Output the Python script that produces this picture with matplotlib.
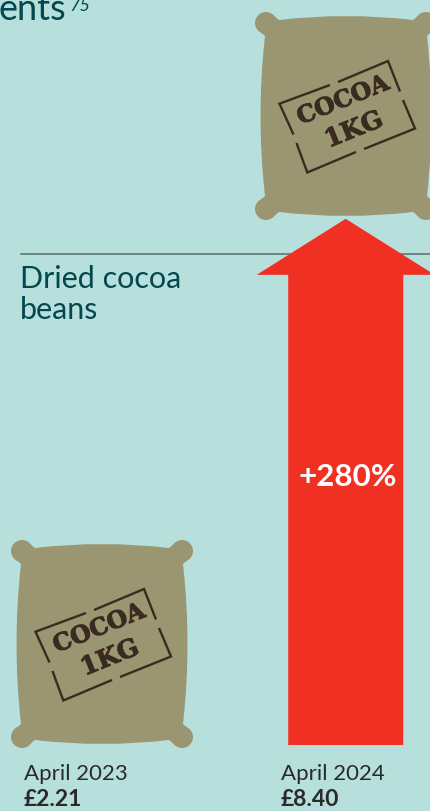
import matplotlib
matplotlib.use("Agg")
import matplotlib.pyplot as plt
import matplotlib.patheffects as pe
from matplotlib.path import Path
from matplotlib.patches import PathPatch, Circle

months = ["April 2023", "April 2024"]
prices = [2.21, 8.40]
product = "Dried cocoa\nbeans"

BG = "#b7e0dc"
SACK = "#9a9672"
STAMP = "#3b2a20"
RED = "#f13024"
TEAL = "#03474f"
DARK = "#2a2a2a"
FONT = "Lato"

fig = plt.figure(figsize=(4.31, 8.11), dpi=100, facecolor=BG)
ax = fig.add_axes([0, 0, 1, 1])
ax.set_xlim(0, 431)
ax.set_ylim(811, 0)
ax.axis("off")


def sack(cx, cy):
    verts = [
        (-72.6, -100.4), (-67, -96), (0, -104), (67, -96), (72.6, -100.4),
        (87.4, -85.6), (81, -80), (90, 0), (81, 80), (87.4, 85.6),
        (72.6, 100.4), (67, 96), (0, 104), (-67, 96), (-72.6, 100.4),
        (-87.4, 85.6), (-81, 80), (-90, 0), (-81, -80), (-87.4, -85.6),
        (-72.6, -100.4),
    ]
    codes = [Path.MOVETO, Path.LINETO, Path.CURVE3, Path.CURVE3, Path.LINETO,
             Path.LINETO, Path.LINETO, Path.CURVE3, Path.CURVE3, Path.LINETO,
             Path.LINETO, Path.LINETO, Path.CURVE3, Path.CURVE3, Path.LINETO,
             Path.LINETO, Path.LINETO, Path.CURVE3, Path.CURVE3, Path.LINETO,
             Path.CLOSEPOLY]
    body = Path([(cx + x, cy + y) for x, y in verts], codes)
    ax.add_patch(PathPatch(body, fc=SACK, ec="none", zorder=3))
    for sx in (-1, 1):
        for sy in (-1, 1):
            ax.add_patch(Circle((cx + sx * 80, cy + sy * 93), 11, fc=SACK, ec="none", zorder=3))

    # stencil frame, broken in the middle of each side
    frame = [
        [(-52.5, 18.5), (-66.5, -12.3), (-16, -31)],
        [(-8, -34), (42, -55), (54, -24.5)],
        [(57, -16), (69, 12.5), (18, 33)],
        [(10, 36), (-38.7, 56.5), (-49.5, 27)],
    ]
    for side in frame:
        ax.plot([cx + p[0] for p in side], [cy + p[1] for p in side], color=STAMP,
                lw=1.7, solid_joinstyle="miter", solid_capstyle="butt", zorder=4)
    heavy = [pe.withStroke(linewidth=0.7, foreground=STAMP)]
    ax.text(cx - 3, cy - 16, "COCOA", rotation=22, rotation_mode="anchor", ha="center", va="center",
            family="DejaVu Serif", weight="bold", fontsize=17, color=STAMP, zorder=4, path_effects=heavy)
    ax.text(cx + 8, cy + 14, "1KG", rotation=22, rotation_mode="anchor", ha="center", va="center",
            family="DejaVu Serif", weight="bold", fontsize=18, color=STAMP, zorder=4, path_effects=heavy)


# heading fragment running off the top-left
ax.text(-2, 20, "ents", family=FONT, fontsize=26, color=TEAL, ha="left", va="baseline", clip_on=False)
ax.text(69, 11, "75", family=FONT, fontsize=13, color=TEAL, style="italic", ha="left", va="baseline")

# rule and product name
ax.plot([21, 431], [254, 254], color="#5a6d6e", lw=1.1, zorder=1)
ax.text(20, 288, product.split("\n")[0], family=FONT, fontsize=22, color=TEAL, va="baseline")
ax.text(20, 319, product.split("\n")[1], family=FONT, fontsize=22, color=TEAL, va="baseline")

sack(102, 644)
sack(346, 116)

# arrow height follows the price rise
rise = (prices[1] / prices[0] - 1) * 100
px_per_pct = 526 / 280
base = 745
tip = base - rise * px_per_pct
cx = 345.7
head_y = tip + 56
arrow = [(cx - 57.5, base), (cx - 57.5, head_y), (cx - 89, head_y), (cx, tip),
         (cx + 89, head_y), (cx + 57.5, head_y), (cx + 57.5, base), (cx - 57.5, base)]
ax.fill([p[0] for p in arrow], [p[1] for p in arrow], color=RED, ec="none", zorder=2)
ax.text(cx + 2.5, 486, f"+{rise:.0f}%", family=FONT, weight="bold", fontsize=22.5, color="white",
        ha="center", va="baseline", zorder=5)

# month and price under each sack
for x, month, price in zip([24, 281], months, prices):
    ax.text(x, 780, month, family=FONT, fontsize=16, color=DARK, va="baseline")
    ax.text(x, 806, f"£{price:.2f}", family=FONT, weight="bold", fontsize=16.5, color=DARK, va="baseline")

fig.savefig("out.png", dpi=100, facecolor=BG)
